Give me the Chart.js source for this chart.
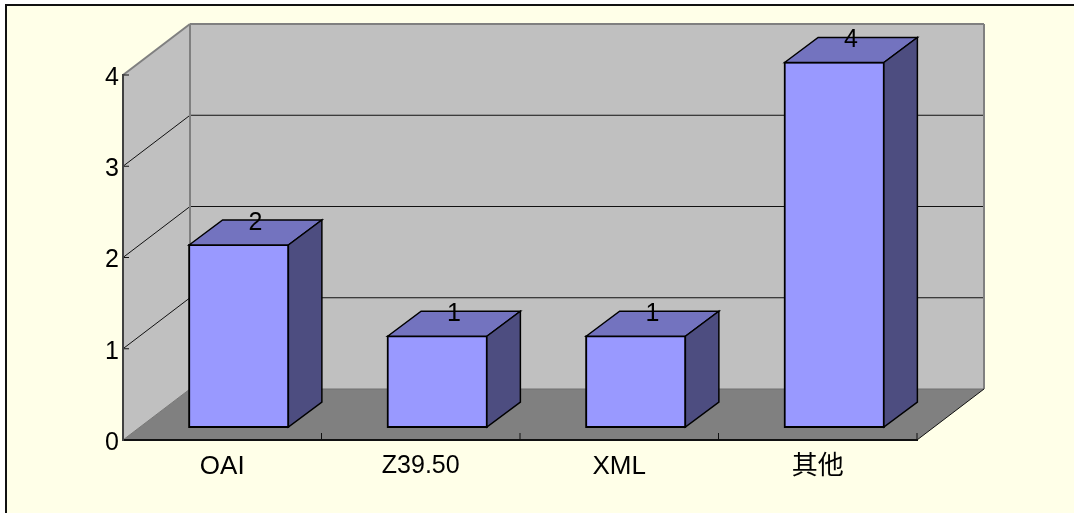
<!DOCTYPE html>
<html>
<head>
<meta charset="utf-8">
<style>
html, body { margin: 0; padding: 0; background: #fff; overflow: hidden; }
canvas { display: block; }
</style>
<script src="https://cdn.jsdelivr.net/npm/chart.js@4/dist/chart.umd.min.js"></script>
</head>
<body>
<canvas id="chart" width="1074" height="513"></canvas>
<script>
const categories = ["OAI", "Z39.50", "XML", "其他"];
const counts = [2, 1, 1, 4];
const valueTicks = [0, 1, 2, 3, 4];

// 3d look: how far the back wall sits from the front plane, and where the bars sit in that depth
const wallDepth = { x: 67, y: -51 };
const barFront = { x: 16.5, y: -12.5 };
const barDepth = { x: 33.5, y: -25 };

const fontFamily = "'Liberation Sans', 'Noto Sans CJK SC', sans-serif";

const line = (ctx, x1, y1, x2, y2, color, width) => {
    ctx.strokeStyle = color;
    ctx.lineWidth = width;
    ctx.beginPath();
    ctx.moveTo(x1, y1);
    ctx.lineTo(x2, y2);
    ctx.stroke();
};

const polygon = (ctx, points, fill, stroke, width) => {
    ctx.beginPath();
    points.forEach(([x, y], i) => (i ? ctx.lineTo(x, y) : ctx.moveTo(x, y)));
    ctx.closePath();
    ctx.fillStyle = fill;
    ctx.fill();
    if (stroke) {
        ctx.strokeStyle = stroke;
        ctx.lineWidth = width;
        ctx.lineJoin = "miter";
        ctx.stroke();
    }
};

const backdrop = {
    id: "backdrop",
    beforeDraw(chart) {
        const { ctx, chartArea: area, scales } = chart;
        const { left, right, top, bottom } = area;
        const dx = wallDepth.x, dy = wallDepth.y;

        ctx.save();
        ctx.fillStyle = "#fff";
        ctx.fillRect(0, 0, chart.width, chart.height);
        ctx.fillStyle = "#ffffe8";
        ctx.fillRect(6, 5, chart.width, chart.height);
        line(ctx, 6, 5, chart.width, 5, "#111", 2);
        line(ctx, 6, 4, 6, chart.height, "#111", 2);

        // walls and floor
        polygon(ctx, [[left, top], [left + dx, top + dy], [left + dx, bottom + dy], [left, bottom]], "#c0c0c0");
        polygon(ctx, [[left + dx, top + dy], [right + dx, top + dy], [right + dx, bottom + dy], [left + dx, bottom + dy]], "#c0c0c0");
        polygon(ctx, [[left, bottom], [left + dx, bottom + dy], [right + dx, bottom + dy], [right, bottom]], "#808080");

        // gridlines run along the left wall and across the back
        valueTicks.slice(1, -1).forEach((v) => {
            const y = scales.y.getPixelForValue(v);
            line(ctx, left, y, left + dx, y + dy, "#111", 1);
            line(ctx, left + dx, y + dy, right + dx, y + dy, "#111", 1);
        });

        line(ctx, left, top, left + dx, top + dy, "#808080", 2);
        line(ctx, left + dx, top + dy, right + dx, top + dy, "#808080", 2);
        line(ctx, left + dx, top + dy, left + dx, bottom + dy, "#808080", 2);
        line(ctx, right + dx, top + dy, right + dx, bottom + dy, "#808080", 2);
        line(ctx, left, bottom, left + dx, bottom + dy, "#777", 1);
        line(ctx, left + dx, bottom + dy, right + dx, bottom + dy, "#707070", 1);
        line(ctx, right, bottom, right + dx, bottom + dy, "#111", 1);

        // tick marks point inward on this kind of chart
        valueTicks.forEach((v) => {
            const y = scales.y.getPixelForValue(v);
            line(ctx, left, y, left + 6, y, "#111", 1);
        });
        const step = (right - left) / categories.length;
        categories.forEach((c, i) => {
            const x = scales.x.getPixelForValue(i) + step / 2;
            line(ctx, x, bottom, x, bottom - 7, "#111", 1);
        });
        ctx.restore();
    },
    beforeDatasetDraw(chart) {
        chart.ctx.save();
        chart.ctx.translate(barFront.x, barFront.y);
    },
    afterDatasetDraw(chart) {
        const { ctx } = chart;
        ctx.restore();
        chart.getDatasetMeta(0).data.forEach((bar) => {
            const half = bar.width / 2;
            const x1 = bar.x - half + barFront.x;
            const x2 = bar.x + half + barFront.x;
            const yTop = bar.y + barFront.y;
            const yBase = bar.base + barFront.y;
            const ox = barDepth.x, oy = barDepth.y;
            polygon(ctx, [[x1, yTop], [x1 + ox, yTop + oy], [x2 + ox, yTop + oy], [x2, yTop]], "#7373bf", "#000", 1.5);
            polygon(ctx, [[x2, yTop], [x2 + ox, yTop + oy], [x2 + ox, yBase + oy], [x2, yBase]], "#4d4d80", "#000", 1.5);
        });
    },
    afterDatasetsDraw(chart) {
        const { ctx } = chart;
        ctx.save();
        ctx.fillStyle = "#000";
        ctx.font = "25px " + fontFamily;
        ctx.textAlign = "center";
        ctx.textBaseline = "middle";
        chart.getDatasetMeta(0).data.forEach((bar, i) => {
            const x = bar.x + barFront.x + barDepth.x / 2;
            const y = bar.y + barFront.y + barDepth.y + 3;
            ctx.fillText(String(counts[i]), x, y);
        });
        ctx.restore();
    },
};

new Chart(document.getElementById("chart").getContext("2d"), {
    type: "bar",
    data: {
        labels: categories,
        datasets: [{
            data: counts,
            backgroundColor: "#9999ff",
            borderColor: "#000",
            borderWidth: 2,
            borderSkipped: false,
            inflateAmount: 1,
            barPercentage: 0.5,
            categoryPercentage: 1,
            clip: false,
        }],
    },
    options: {
        responsive: false,
        devicePixelRatio: 1,
        animation: false,
        layout: { padding: { top: 75, right: 157, left: 0, bottom: 0 } },
        plugins: { legend: { display: false }, tooltip: { enabled: false } },
        scales: {
            x: {
                afterFit: (scale) => { scale.height = 73; },
                grid: { drawOnChartArea: false, drawTicks: false },
                border: { color: "#111", width: 2 },
                ticks: {
                    color: "#000",
                    padding: 11,
                    maxRotation: 0,
                    font: (c) => ({ family: fontFamily, size: c.index === 1 ? 25 : 26 }),
                },
            },
            y: {
                min: 0,
                max: 4,
                afterFit: (scale) => { scale.width = 123; },
                grid: { drawOnChartArea: false, drawTicks: false },
                border: { color: "#404040", width: 2 },
                afterBuildTicks: (scale) => { scale.ticks = valueTicks.map((value) => ({ value })); },
                ticks: {
                    color: "#000",
                    padding: 4,
                    labelOffset: 3,
                    font: { family: fontFamily, size: 25 },
                },
            },
        },
    },
    plugins: [backdrop],
});
</script>
</body>
</html>
